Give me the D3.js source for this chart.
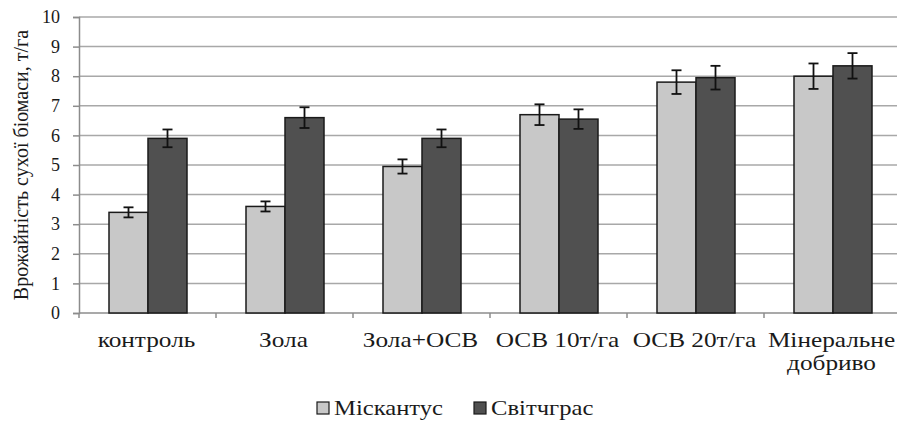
<!DOCTYPE html>
<html>
<head>
<meta charset="utf-8">
<script src="https://cdn.jsdelivr.net/npm/d3@7"></script>
<style>
  body { margin: 0; background: #fff; }
</style>
</head>
<body>
<div id="chart"></div>
<script>
// data
const categories = ["контроль", "Зола", "Зола+ОСВ", "ОСВ 10т/га", "ОСВ 20т/га", "Мінеральне\nдобриво"];
const seriesNames = ["Міскантус", "Світчграс"];
const miscanthus = [3.4, 3.6, 4.95, 6.7, 7.8, 8.0];
const switchgrass = [5.9, 6.6, 5.9, 6.55, 7.95, 8.35];
const miscanthusErr = [0.17, 0.17, 0.24, 0.35, 0.4, 0.43];
const switchgrassErr = [0.3, 0.35, 0.3, 0.33, 0.4, 0.43];
const yTicks = [0, 1, 2, 3, 4, 5, 6, 7, 8, 9, 10];

const colors = ["#c8c8c8", "#505050"];
const serif = "Liberation Serif";
const textColor = "#1a1a1a";

const W = 897, H = 421;
const margin = {top: 17, left: 79};
const plotW = 822, plotH = 296;

const svg = d3.select("#chart").append("svg")
    .attr("width", W)
    .attr("height", H)
    .attr("font-family", serif);

const g = svg.append("g")
    .attr("transform", "translate(" + margin.left + "," + margin.top + ")");

// scales
const x = d3.scaleBand().domain(categories).range([0, plotW]);
const xInner = d3.scaleBand().domain(seriesNames).range([0, 78]);
const y = d3.scaleLinear().domain([0, 10]).range([plotH, 0]);

// gridlines
g.append("g").selectAll("line")
    .data(yTicks.slice(1))
    .enter().append("line")
    .attr("x1", 0).attr("x2", plotW)
    .attr("y1", d => y(d)).attr("y2", d => y(d))
    .attr("stroke", "#a8a8a8")
    .attr("stroke-width", 1.5);

// y axis
const yAxis = g.append("g")
    .call(d3.axisLeft(y).tickValues(yTicks).tickSize(6).tickPadding(13));
yAxis.attr("font-family", serif);
yAxis.select(".domain").attr("stroke", "#8c8c8c").attr("stroke-width", 1.5);
yAxis.selectAll(".tick line").attr("stroke", "#8c8c8c").attr("stroke-width", 1.5);
yAxis.selectAll(".tick text")
    .attr("font-size", 18)
    .attr("fill", textColor);

// x axis line + boundary ticks
g.append("line")
    .attr("x1", 0).attr("x2", plotW)
    .attr("y1", plotH).attr("y2", plotH)
    .attr("stroke", "#8c8c8c").attr("stroke-width", 1.5);
g.append("g").selectAll("line")
    .data(categories)
    .enter().append("line")
    .attr("x1", d => x(d)).attr("x2", d => x(d))
    .attr("y1", plotH).attr("y2", plotH + 5)
    .attr("stroke", "#8c8c8c").attr("stroke-width", 1.5);

// x labels (reference text is a bit stretched sideways)
const xLabels = g.append("g").selectAll("text")
    .data(categories)
    .enter().append("text")
    .attr("text-anchor", "middle")
    .attr("fill", textColor)
    .attr("transform", d => "translate(" + (x(d) + x.bandwidth() / 2 - 1) + "," + (plotH + 34) + ") scale(1.15,1)")
    .attr("font-size", 22);
xLabels.each(function(d) {
    const parts = d.split("\n");
    const t = d3.select(this);
    parts.forEach((p, i) => {
        t.append("tspan").attr("x", 0).attr("dy", i === 0 ? 0 : 23).text(p);
    });
});

// bars
const groups = g.append("g").selectAll("g")
    .data(categories.map((c, i) => ({
        cat: c,
        vals: [
            {name: seriesNames[0], v: miscanthus[i], e: miscanthusErr[i]},
            {name: seriesNames[1], v: switchgrass[i], e: switchgrassErr[i]}
        ]
    })))
    .enter().append("g")
    .attr("transform", d => "translate(" + (x(d.cat) + (x.bandwidth() - 78) / 2 + 0.5) + ",0)");

groups.selectAll("rect")
    .data(d => d.vals)
    .enter().append("rect")
    .attr("x", d => xInner(d.name))
    .attr("width", xInner.bandwidth())
    .attr("y", d => y(d.v))
    .attr("height", d => y(0) - y(d.v))
    .attr("fill", (d, i) => colors[i])
    .attr("stroke", "#1a1a1a")
    .attr("stroke-width", 1.5);

// error bars
const err = groups.selectAll("g.err")
    .data(d => d.vals)
    .enter().append("g")
    .attr("class", "err")
    .attr("transform", d => "translate(" + (xInner(d.name) + xInner.bandwidth() / 2) + ",0)");
err.append("line")
    .attr("x1", 0).attr("x2", 0)
    .attr("y1", d => y(d.v + d.e)).attr("y2", d => y(d.v - d.e))
    .attr("stroke", "#111").attr("stroke-width", 1.8);
err.append("line")
    .attr("x1", -5).attr("x2", 5)
    .attr("y1", d => y(d.v + d.e)).attr("y2", d => y(d.v + d.e))
    .attr("stroke", "#111").attr("stroke-width", 1.8);
err.append("line")
    .attr("x1", -5).attr("x2", 5)
    .attr("y1", d => y(d.v - d.e)).attr("y2", d => y(d.v - d.e))
    .attr("stroke", "#111").attr("stroke-width", 1.8);

// y axis title
svg.append("text")
    .attr("transform", "translate(28," + (margin.top + plotH / 2) + ") rotate(-90)")
    .attr("text-anchor", "middle")
    .attr("fill", textColor)
    .attr("font-size", 20)
    .text("Врожайність сухої біомаси, т/га");

// legend
const legendX = [317, 474];
const legend = svg.append("g").selectAll("g")
    .data(seriesNames)
    .enter().append("g")
    .attr("transform", (d, i) => "translate(" + legendX[i] + ",402)");
legend.append("rect")
    .attr("width", 12).attr("height", 12)
    .attr("fill", (d, i) => colors[i])
    .attr("stroke", "#1a1a1a").attr("stroke-width", 1.2);
legend.append("text")
    .attr("transform", "translate(17,13) scale(1.12,1)")
    .attr("fill", textColor)
    .attr("font-size", 22)
    .text(d => d);
</script>
</body>
</html>
